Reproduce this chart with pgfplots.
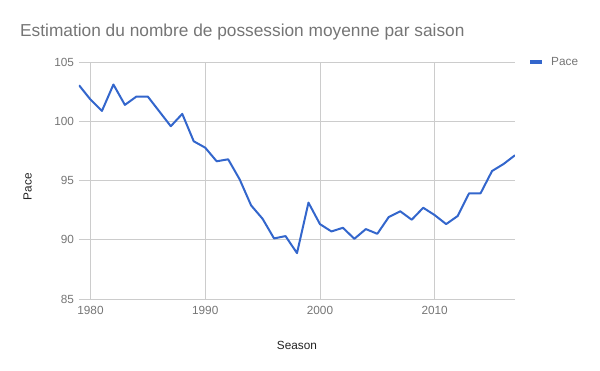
\documentclass[border=0pt]{standalone}
\usepackage{pgfplots}
\pgfplotsset{compat=1.18}
\usepackage{fontspec}
\setmainfont{Liberation Sans}
\definecolor{lineblue}{HTML}{3366CC}
\definecolor{gridgray}{HTML}{CCCCCC}
\definecolor{ticklab}{HTML}{757575}
\definecolor{axlab}{HTML}{222222}
\begin{document}
\begin{tikzpicture}[x=1pt,y=1pt]
\path[use as bounding box] (-79,-72) rectangle (521,299);
\begin{axis}[
  at={(0,0)}, anchor=south west,
  scale only axis, width=436pt, height=237pt,
  xmin=1979, xmax=2017, ymin=85, ymax=105,
  axis line style={draw=none},
  xtick={1980,1990,2000,2010},
  ytick={85,90,95,100,105},
  grid=major,
  major grid style={gridgray, line width=0.8pt},
  major tick length=0pt,
  xticklabel style={font=\fontsize{11.8}{13}\selectfont, text=ticklab, yshift=-4pt},
  yticklabel style={font=\fontsize{11.8}{13}\selectfont, text=ticklab, xshift=-1.5pt},
  /pgf/number format/assume math mode=true,
  /pgf/number format/1000 sep={},
  legend style={at={(axis description cs:1,1)}, anchor=west, xshift=10pt, draw=none, fill=none, font=\fontsize{11.8}{13}\selectfont\color{ticklab}},
  legend image code/.code={\draw[#1, line width=4pt] (0pt,0pt) -- (12pt,0pt);},
]
\addplot[lineblue, line width=2pt, line join=round] coordinates {
(1979,103.04) (1980,101.83) (1981,100.87) (1982,103.1) (1983,101.38)
(1984,102.08) (1985,102.08) (1986,100.83) (1987,99.58) (1988,100.62)
(1989,98.31) (1990,97.77) (1991,96.62) (1992,96.79) (1993,95.1)
(1994,92.9) (1995,91.77) (1996,90.11) (1997,90.31) (1998,88.87)
(1999,93.13) (2000,91.32) (2001,90.7) (2002,91.01) (2003,90.08)
(2004,90.9) (2005,90.5) (2006,91.92) (2007,92.4) (2008,91.69)
(2009,92.7) (2010,92.08) (2011,91.32) (2012,92.0) (2013,93.92)
(2014,93.92) (2015,95.8) (2016,96.39) (2017,97.13)
};
\addlegendentry{\hspace{5pt}Pace}
\end{axis}
\node[anchor=base west, text=ticklab, font=\fontsize{17.3}{20}\selectfont, inner sep=0pt] at (-59,262.3) {Estimation du nombre de possession moyenne par saison};
\node[anchor=base, text=axlab, font=\fontsize{11.8}{13}\selectfont, inner sep=0pt] at (218,-50.5) {Season};
\node[anchor=base, rotate=90, text=axlab, font=\fontsize{11.8}{13}\selectfont, inner sep=0pt] at (-47.3,112.3) {Pace};
\end{tikzpicture}
\end{document}
